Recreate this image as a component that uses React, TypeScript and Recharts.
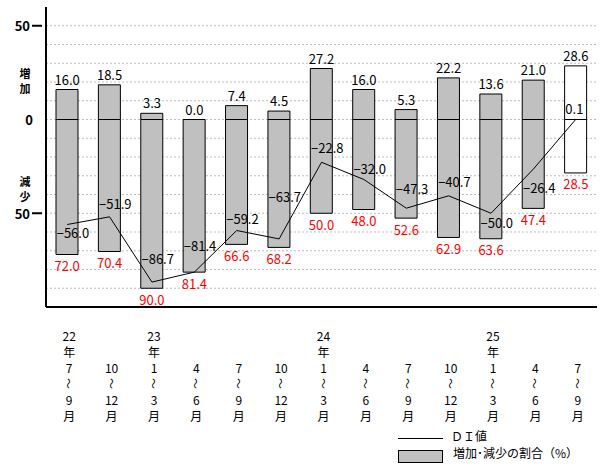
import { ComposedChart, Bar, Line, XAxis, YAxis, CartesianGrid, Cell, LabelList } from "recharts";

// 四半期ごとのDI値と増加・減少の割合
const years = ["22", "", "23", "", "", "", "24", "", "", "", "25", "", ""];
const fromMonths = ["7", "10", "1", "4", "7", "10", "1", "4", "7", "10", "1", "4", "7"];
const toMonths = ["9", "12", "3", "6", "9", "12", "3", "6", "9", "12", "3", "6", "9"];
const increase = [16.0, 18.5, 3.3, 0.0, 7.4, 4.5, 27.2, 16.0, 5.3, 22.2, 13.6, 21.0, 28.6];
const decrease = [72.0, 70.4, 90.0, 81.4, 66.6, 68.2, 50.0, 48.0, 52.6, 62.9, 63.6, 47.4, 28.5];
const diValues = [-56.0, -51.9, -86.7, -81.4, -59.2, -63.7, -22.8, -32.0, -47.3, -40.7, -50.0, -26.4, 0.1];

const yTicks = [50, 21, 0, -37, -50];
const yTickLabels = ["50", "増加", "0", "減少", "50"];
const gridValues = [50, 40, 30, 20, 10, 0, -10, -20, -30, -40, -50, -60, -70, -80, -90];
const legendLabels = ["ＤＩ値", "増加･減少の割合（%）"];

// DI値ラベルの上下位置の調整
const diLabelDy = [8, -13, -24, -27, -12, -42, -15, -11, -20, -14, 9, 18, -11];

const FONT = '"Noto Sans CJK JP", "Noto Sans", sans-serif';
const BAR_FILL = "#c0c0c0";

const data = years.map((_, i) => ({
  period: i,
  inc: increase[i],
  dec: -decrease[i],
  di: diValues[i],
}));

const fmt = (v: number) => v.toFixed(1).replace("-", "−");

const box = (p: any) => {
  const v = p.viewBox ?? p;
  return { x: v.x ?? p.x, y: v.y ?? p.y };
};

// 増加の割合：棒の上端（非表示の線の点）の上に表示
const IncLabel = (p: any) => {
  const { x, y } = box(p);
  return (
    <text x={x} y={y - 10.5} textAnchor="middle" dominantBaseline="central"
      fontSize={13} fontFamily={FONT} fill="#000">
      {fmt(increase[p.index])}
    </text>
  );
};

// 減少の割合：棒の下端の下に赤字で表示
const DecLabel = (p: any) => {
  const { x, y } = box(p);
  return (
    <text x={x} y={y + 11} textAnchor="middle" dominantBaseline="central"
      fontSize={13} fontFamily={FONT} fill="#ff0000">
      {fmt(decrease[p.index])}
    </text>
  );
};

const DiLabel = (p: any) => {
  const { x, y } = box(p);
  return (
    <text x={x - 10.5} y={y + diLabelDy[p.index]} textAnchor="start" dominantBaseline="central"
      fontSize={13} fontFamily={FONT} fill="#000">
      {fmt(diValues[p.index])}
    </text>
  );
};

const PeriodTick = ({ x, y, payload }: any) => {
  const i = Number(payload.value);
  const cx = x + 2;
  const rows = [years[i], years[i] ? "年" : "", fromMonths[i], "～", toMonths[i], "月"];
  return (
    <g>
      {rows.map((t, k) => {
        if (!t) return null;
        const cy = y + 28.5 + k * 16;
        return (
          <text key={k} x={cx} y={cy} textAnchor="middle" dominantBaseline="central"
            fontSize={k === 3 ? 11 : 12} fontFamily={FONT} fill="#000"
            transform={k === 3 ? `rotate(90 ${cx} ${cy})` : undefined}>
            {t}
          </text>
        );
      })}
    </g>
  );
};

const LevelTick = ({ x, y, payload }: any) => {
  const label = yTickLabels[yTicks.indexOf(payload.value)];
  const common = { dominantBaseline: "central" as const, fontSize: 13, fontWeight: "bold", fontFamily: FONT, fill: "#000" };
  if (label === "50") {
    return (
      <g>
        <text x={x - 16} y={y} textAnchor="end" {...common}>{label}</text>
        <line x1={x - 14} x2={x - 4} y1={y} y2={y} stroke="#000" strokeWidth={2} />
      </g>
    );
  }
  if (label === "0") {
    return <text x={x - 17} y={y} textAnchor="middle" {...common}>{label}</text>;
  }
  return (
    <g>
      {label.split("").map((c, j) => (
        <text key={j} x={x - 21} y={y + (j - 0.5) * 15} textAnchor="middle" {...common} fontSize={11}>
          {c}
        </text>
      ))}
    </g>
  );
};

const legendText = { position: "absolute" as const, lineHeight: "12px", fontSize: 12, fontFamily: FONT, color: "#000", whiteSpace: "nowrap" as const };

export default function App() {
  return (
    <div style={{ position: "fixed", left: 0, top: 0, width: 605, height: 467, background: "#fff" }}>
      <ComposedChart width={605} height={467} data={data} stackOffset="sign"
        margin={{ top: 7, right: 8, left: 0, bottom: 0 }}>
        <CartesianGrid vertical={false} horizontalValues={gridValues} stroke="#bdbdbd" strokeDasharray="2 2" />
        <XAxis dataKey="period" height={160} tickLine={false} tickSize={0} tickMargin={0}
          axisLine={{ stroke: "#000", strokeWidth: 2 }} tick={<PeriodTick />} interval={0} />
        <XAxis xAxisId="top" dataKey="period" orientation="top" height={0} tick={false} tickLine={false}
          axisLine={{ stroke: "#000", strokeWidth: 2 }} />
        <YAxis domain={[-100, 60]} ticks={yTicks} width={46} tickLine={false} tickSize={0} tickMargin={0}
          axisLine={{ stroke: "#000", strokeWidth: 2 }} tick={<LevelTick />} interval={0} />
        <YAxis yAxisId="right" orientation="right" domain={[-100, 60]} width={0} tick={false} tickLine={false}
          axisLine={{ stroke: "#000", strokeWidth: 2 }} />
        <Bar dataKey="inc" stackId="a" barSize={22} fill={BAR_FILL} stroke="#000" strokeWidth={1} isAnimationActive={false}>
          {data.map((_, i) => (
            <Cell key={i} fill={i === data.length - 1 ? "#fff" : BAR_FILL} />
          ))}
        </Bar>
        <Bar dataKey="dec" stackId="a" barSize={22} fill={BAR_FILL} stroke="#000" strokeWidth={1} isAnimationActive={false}>
          {data.map((_, i) => (
            <Cell key={i} fill={i === data.length - 1 ? "#fff" : BAR_FILL} />
          ))}
        </Bar>
        <Line dataKey="inc" type="linear" stroke="none" dot={false} activeDot={false} legendType="none" isAnimationActive={false}>
          <LabelList content={<IncLabel />} />
        </Line>
        <Line dataKey="dec" type="linear" stroke="none" dot={false} activeDot={false} legendType="none" isAnimationActive={false}>
          <LabelList content={<DecLabel />} />
        </Line>
        <Line dataKey="di" type="linear" stroke="#000" strokeWidth={1} dot={false} isAnimationActive={false}>
          <LabelList content={<DiLabel />} />
        </Line>
      </ComposedChart>
      <div style={{ position: "absolute", left: 398, top: 438, width: 45, height: 1, background: "#000" }} />
      <div style={{ position: "absolute", left: 398, top: 450, width: 43, height: 11, border: "1px solid #000", background: BAR_FILL }} />
      <div style={{ ...legendText, left: 451, top: 430 }}>{legendLabels[0]}</div>
      <div style={{ ...legendText, left: 453, top: 447 }}>{legendLabels[1]}</div>
    </div>
  );
}
